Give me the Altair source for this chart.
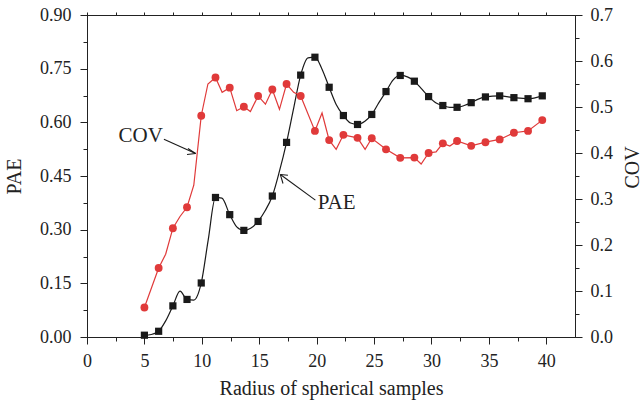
import altair as alt
import pandas as pd

# ---- data ----
radius = [5.0, 6.24, 7.48, 8.71, 9.95, 11.19, 12.43, 13.66, 14.9, 16.14, 17.38, 18.61,
          19.85, 21.09, 22.33, 23.56, 24.8, 26.04, 27.28, 28.51, 29.75, 30.99, 32.23,
          33.46, 34.7, 35.94, 37.18, 38.41, 39.65]
pae_pts = [0.005, 0.016, 0.087, 0.105, 0.151, 0.390, 0.342, 0.298, 0.323, 0.394, 0.544,
           0.732, 0.782, 0.698, 0.619, 0.594, 0.622, 0.686, 0.731, 0.715, 0.672, 0.647,
           0.642, 0.655, 0.671, 0.674, 0.669, 0.666, 0.674]
cov_pts = [0.064, 0.150, 0.2365, 0.282, 0.481, 0.564, 0.542, 0.5005, 0.524, 0.538, 0.550,
           0.524, 0.448, 0.428, 0.4395, 0.433, 0.432, 0.408, 0.3895, 0.390, 0.400, 0.421,
           0.426, 0.4155, 0.4235, 0.4295, 0.444, 0.448, 0.4715]

# curve traces (denser than markers)
pae_line_x = [5.0, 5.6, 6.24, 6.85, 7.48, 8.1, 8.71, 9.3, 9.95, 10.55, 11.19, 11.75, 12.43,
              13.04, 13.66, 14.25, 14.9, 15.5, 16.14, 16.75, 17.38, 18.0, 18.61, 19.25,
              19.85, 20.45, 21.09, 21.7, 22.33, 22.95, 23.56, 24.2, 24.8, 25.42, 26.04,
              26.65, 27.28, 27.9, 28.51, 29.1, 29.75, 30.37, 30.99, 31.6, 32.23, 32.85,
              33.46, 34.08, 34.7, 35.94, 37.18, 38.41, 39.65]
pae_line_y = [0.005, 0.007, 0.016, 0.045, 0.087, 0.128, 0.105, 0.103, 0.151, 0.27, 0.390,
              0.388, 0.342, 0.308, 0.298, 0.304, 0.323, 0.352, 0.394, 0.462, 0.544, 0.64,
              0.732, 0.780, 0.782, 0.750, 0.698, 0.650, 0.619, 0.598, 0.594, 0.603, 0.622,
              0.655, 0.686, 0.718, 0.731, 0.727, 0.715, 0.695, 0.672, 0.655, 0.647, 0.642,
              0.642, 0.647, 0.655, 0.665, 0.671, 0.674, 0.669, 0.666, 0.674]
cov_line_x = [5.0, 6.24, 6.85, 7.48, 8.1, 8.71, 9.3, 9.95, 10.53, 11.19, 11.77, 12.43, 13.04,
              13.66, 14.23, 14.9, 15.54, 16.14, 16.76, 17.38, 18.0, 18.61, 19.85, 20.47,
              21.09, 21.7, 22.33, 23.56, 24.22, 24.8, 26.04, 27.28, 28.51, 29.1, 29.75,
              30.4, 30.99, 31.6, 32.23, 33.46, 34.7, 35.94, 37.18, 38.41, 39.65]
cov_line_y = [0.064, 0.150, 0.180, 0.2365, 0.262, 0.282, 0.330, 0.481, 0.550, 0.564, 0.532,
              0.542, 0.492, 0.5005, 0.490, 0.524, 0.506, 0.538, 0.495, 0.550, 0.532, 0.524,
              0.448, 0.487, 0.428, 0.408, 0.4395, 0.433, 0.408, 0.432, 0.408, 0.3895, 0.390,
              0.376, 0.400, 0.4025, 0.421, 0.415, 0.426, 0.4155, 0.4235, 0.4295, 0.444,
              0.448, 0.4715]

# annotations (data coords, PAE scale)
label_text = ["COV", "PAE"]
label_x = [4.68, 21.74]
label_y = [0.5615, 0.375]
arrow_x1 = [6.70, 9.46, 9.46, 19.89, 16.84, 16.84]
arrow_y1 = [0.553, 0.513, 0.513, 0.3825, 0.454, 0.454]
arrow_x2 = [9.46, 8.79, 8.71, 16.84, 17.5, 17.07]
arrow_y2 = [0.513, 0.527, 0.510, 0.454, 0.452, 0.429]

x_all = [0, 2.5, 5, 7.5, 10, 12.5, 15, 17.5, 20, 22.5, 25, 27.5, 30, 32.5, 35, 37.5, 40]
pae_ticks = [0, 0.075, 0.15, 0.225, 0.30, 0.375, 0.45, 0.525, 0.60, 0.675, 0.75, 0.825, 0.90]
cov_ticks = [0, 0.05, 0.1, 0.15, 0.2, 0.25, 0.3, 0.35, 0.4, 0.45, 0.5, 0.55, 0.6, 0.65, 0.7]

FONT = "Liberation Serif"
INK = "#222222"
RED = "#e03a3a"
BLACK = "#1a1a1a"

marks_df = pd.DataFrame({"r": radius, "pae": pae_pts, "cov": cov_pts})
pae_line_df = pd.DataFrame({"r": pae_line_x, "v": pae_line_y})
cov_line_df = pd.DataFrame({"r": cov_line_x, "v": cov_line_y})
lab_df = pd.DataFrame({"t": label_text, "x": label_x, "y": label_y})
arr_df = pd.DataFrame({"x1": arrow_x1, "y1": arrow_y1, "x2": arrow_x2, "y2": arrow_y2})

xs = alt.Scale(domain=[0, 42.5], nice=False, zero=False)
pae_s = alt.Scale(domain=[0, 0.9], nice=False)
cov_s = alt.Scale(domain=[0, 0.7], nice=False)

def major_test(step):
    return f"abs(datum.value/{step} - round(datum.value/{step})) < 0.01"

x_axis = alt.Axis(
    orient="bottom", values=x_all, grid=False,
    tickSize={"condition": {"test": major_test(5), "value": 7}, "value": 4},
    labelExpr="abs(datum.value/5 - round(datum.value/5)) < 0.01 ? datum.label : ''",
    labelFont=FONT, labelFontSize=18, labelColor=INK, labelPadding=8,
    title="Radius of spherical samples", titleFont=FONT, titleFontSize=20,
    titleFontWeight="normal", titleColor=INK, titlePadding=8,
    domainColor=INK, tickColor=INK, labelFlush=False,
)
x_top = alt.Axis(orient="top", values=x_all, grid=False, labels=False, title=None,
                 tickSize=3, domainColor=INK, tickColor=INK)

pae_axis = alt.Axis(
    orient="left", values=pae_ticks, grid=False, format=".2f",
    tickSize={"condition": {"test": major_test(0.15), "value": 7}, "value": 4},
    labelExpr="abs(datum.value/0.15 - round(datum.value/0.15)) < 0.01 ? datum.label : ''",
    labelFont=FONT, labelFontSize=18, labelColor=INK, labelPadding=9,
    title="PAE", titleFont=FONT, titleFontSize=20, titleFontWeight="normal",
    titleColor=INK, titleAngle=-90, titleBaseline="middle", titleAlign="center",
    titleX=-73, titleY=161, domainColor=INK, tickColor=INK, labelFlush=False,
)
cov_axis = alt.Axis(
    orient="right", values=cov_ticks, grid=False, format=".1f",
    tickSize={"condition": {"test": major_test(0.1), "value": 7}, "value": 4},
    labelExpr="abs(datum.value/0.1 - round(datum.value/0.1)) < 0.01 ? datum.label : ''",
    labelFont=FONT, labelFontSize=18, labelColor=INK, labelPadding=8,
    title="COV", titleFont=FONT, titleFontSize=20, titleFontWeight="normal",
    titleColor=INK, titleAngle=-90, titleBaseline="middle", titleAlign="center",
    titleX=57, titleY=152, domainColor=INK, tickColor=INK, labelFlush=False,
)

pae_line = alt.Chart(pae_line_df).mark_line(
    color=BLACK, strokeWidth=1.2, interpolate="monotone"
).encode(
    x=alt.X("r:Q", scale=xs, axis=x_axis),
    y=alt.Y("v:Q", scale=pae_s, axis=pae_axis),
)
top_layer = alt.Chart(pae_line_df).mark_point(opacity=0).encode(
    x=alt.X("r:Q", scale=xs, axis=x_top),
    y=alt.Y("v:Q", scale=pae_s, axis=None),
)
cov_line = alt.Chart(cov_line_df).mark_line(color=RED, strokeWidth=1.2).encode(
    x=alt.X("r:Q", scale=xs, axis=None),
    y=alt.Y("v:Q", scale=cov_s, axis=cov_axis),
)
cov_pts_l = alt.Chart(marks_df).mark_point(
    shape="circle", filled=True, color=RED, size=62, opacity=1
).encode(
    x=alt.X("r:Q", scale=xs, axis=None),
    y=alt.Y("cov:Q", scale=cov_s, axis=None),
)
pae_pts_l = alt.Chart(marks_df).mark_point(
    shape="square", filled=True, color=BLACK, size=52, opacity=1
).encode(
    x=alt.X("r:Q", scale=xs, axis=None),
    y=alt.Y("pae:Q", scale=pae_s, axis=None),
)
arrows = alt.Chart(arr_df).mark_rule(color=BLACK, strokeWidth=1.1).encode(
    x=alt.X("x1:Q", scale=xs, axis=None),
    y=alt.Y("y1:Q", scale=pae_s, axis=None),
    x2="x2:Q", y2="y2:Q",
)
labels = alt.Chart(lab_df).mark_text(
    font=FONT, fontSize=21, color=INK, align="center", baseline="middle"
).encode(
    x=alt.X("x:Q", scale=xs, axis=None),
    y=alt.Y("y:Q", scale=pae_s, axis=None),
    text="t:N",
)

chart = alt.layer(
    pae_line, top_layer, cov_line, cov_pts_l, pae_pts_l, arrows, labels
).resolve_scale(y="independent").resolve_axis(x="independent", y="independent").properties(
    width=488, height=322,
    padding={"left": 87, "top": 15, "right": 69, "bottom": 69},
    autosize=alt.AutoSizeParams(type="none"),
    background="white",
).configure_view(stroke=INK, strokeWidth=1)

chart.save("out.html", embed_options={"renderer": "svg", "actions": False})
